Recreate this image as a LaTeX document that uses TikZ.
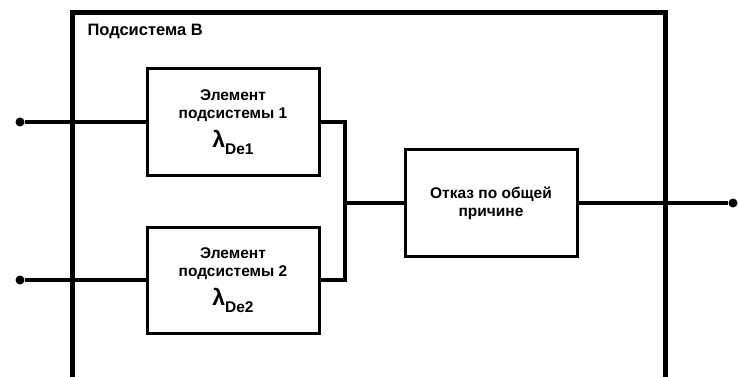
\documentclass[tikz,border=0pt]{standalone}
\usepackage{fontspec}
\setmainfont{Liberation Sans}
\usetikzlibrary{positioning}

\newcommand{\lamsub}[1]{{\fontsize{23}{23}\selectfont λ}\raisebox{-7pt}{#1}}

\tikzset{
  blok/.style={draw, line width=3pt, minimum width=172pt, minimum height=106pt,
    align=center, font=\bfseries\fontsize{15.5}{18}\selectfont},
  svyaz/.style={line width=3.6pt},
  tochka/.style={circle, fill, inner sep=0pt, minimum size=9pt},
}

\begin{document}
\begin{tikzpicture}[x=1pt, y=-1pt]
  \useasboundingbox (0,0) rectangle (739,377);
  % frame of the subsystem
  \draw[line width=5pt] (72,377) -- (72,13) -- (665,13) -- (665,377);
  \node[anchor=west, font=\bfseries\fontsize{16.5}{18}\selectfont] (podsis) at (84,31) {Подсистема B};

  % elements
  \node[blok] (el1) at (233,122) {Элемент\\подсистемы 1\\[7pt]\lamsub{De1}};
  \node[blok] (el2) at (233,280) {Элемент\\подсистемы 2\\[7pt]\lamsub{De2}};
  \node[blok] (otkaz) at (491,203) {Отказ по общей\\причине};

  % inputs and output
  \node[tochka] (vh1) at (20,122) {};
  \node[tochka] (vh2) at (20,280) {};
  \node[tochka] (vyh) at (733,203) {};
  \coordinate (uzel) at (345,203);

  \draw[svyaz] (vh1) -- (el1.west);
  \draw[svyaz] (vh2) -- (el2.west);
  \draw[svyaz] (el1.east) -| (uzel);
  \draw[svyaz] (el2.east) -| (uzel);
  \draw[svyaz] (uzel) -- (otkaz.west);
  \draw[svyaz] (otkaz.east) -- (vyh);
\end{tikzpicture}
\end{document}
